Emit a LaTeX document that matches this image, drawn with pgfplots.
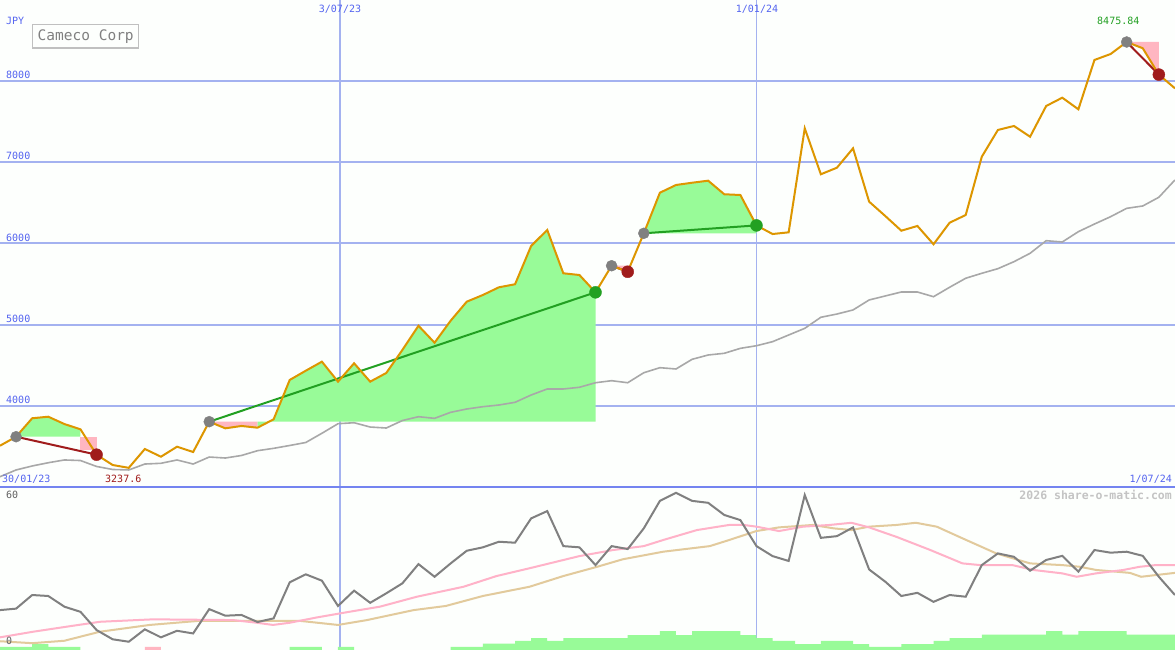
\documentclass[border=0pt]{standalone}
\usepackage{fontspec}
\setmainfont{DejaVu Sans Mono}
\usepackage{pgfplots}
\usepackage{pgfplotstable}
\pgfplotsset{compat=1.18}
\definecolor{bg}{RGB}{253,255,253}
\definecolor{gridblue}{RGB}{164,178,240}
\definecolor{divblue}{RGB}{116,132,240}
\definecolor{lblblue}{RGB}{84,100,240}
\definecolor{pricecol}{RGB}{221,150,0}
\definecolor{macol}{RGB}{168,168,168}
\definecolor{gainfill}{RGB}{152,251,152}
\definecolor{lossfill}{RGB}{255,182,193}
\definecolor{tradegreen}{RGB}{34,160,34}
\definecolor{tradered}{RGB}{160,28,28}
\definecolor{entrygray}{RGB}{128,128,128}
\definecolor{oscgray}{RGB}{128,128,128}
\definecolor{oscpink}{RGB}{255,178,200}
\definecolor{osctan}{RGB}{226,202,156}
\definecolor{boxgray}{RGB}{192,192,192}
\definecolor{wmgray}{RGB}{196,196,196}
\definecolor{lblgray}{RGB}{96,96,96}

\pgfplotstableread{
i v
0 3510
1 3621
2 3848
3 3867
4 3777
5 3712
6 3400
7 3273
8 3238
9 3470
10 3375
11 3498
12 3433
13 3806
14 3724
15 3753
16 3732
17 3835
18 4319
19 4433
20 4544
21 4298
22 4524
23 4298
24 4405
25 4688
26 4986
27 4777
28 5048
29 5282
30 5364
31 5459
32 5496
33 5967
34 6164
35 5631
36 5610
37 5397
38 5724
39 5650
40 6123
41 6622
42 6717
43 6745
44 6770
45 6603
46 6594
47 6220
48 6114
49 6135
50 7414
51 6849
52 6930
53 7168
54 6512
55 6336
56 6155
57 6213
58 5988
59 6253
60 6348
61 7065
62 7394
63 7443
64 7311
65 7689
66 7791
67 7648
68 8255
69 8328
70 8476
71 8399
72 8075
73 7906
}\price

\pgfplotstableread{
i v
0 3129
1 3212
2 3261
3 3301
4 3335
5 3328
6 3255
7 3218
8 3212
9 3285
10 3294
11 3335
12 3285
13 3371
14 3359
15 3390
16 3449
17 3478
18 3513
19 3550
20 3663
21 3781
22 3793
23 3740
24 3728
25 3820
26 3867
27 3847
28 3921
29 3962
30 3990
31 4011
32 4044
33 4134
34 4208
35 4208
36 4229
37 4285
38 4310
39 4285
40 4408
41 4470
42 4454
43 4573
44 4626
45 4647
46 4708
47 4740
48 4790
49 4872
50 4954
51 5090
52 5130
53 5180
54 5303
55 5352
56 5401
57 5401
58 5343
59 5459
60 5570
61 5631
62 5688
63 5774
64 5877
65 6032
66 6016
67 6143
68 6237
69 6327
70 6430
71 6459
72 6566
73 6779
}\mavg

\pgfplotstableread{
i u
0 15.6
1 16.2
2 21.8
3 21.4
4 17.0
5 14.9
6 7.4
7 3.6
8 2.6
9 7.7
10 4.4
11 7.1
12 6.0
13 16.0
14 13.3
15 13.6
16 10.7
17 12.2
18 27.0
19 30.3
20 27.7
21 17.3
22 23.6
23 18.6
24 22.5
25 26.6
26 34.5
27 29.3
28 34.8
29 40.0
30 41.4
31 43.7
32 43.3
33 53.3
34 56.3
35 41.9
36 41.4
37 34.1
38 41.9
39 40.7
40 49.2
41 60.5
42 63.8
43 60.5
44 59.7
45 54.7
46 52.6
47 41.9
48 37.8
49 35.8
50 62.9
51 45.3
52 46.0
53 49.6
54 32.3
55 27.3
56 21.4
57 22.7
58 19.0
59 21.8
60 21.1
61 34.1
62 38.9
63 37.5
64 31.8
65 36.2
66 37.9
67 31.4
68 40.3
69 39.2
70 39.6
71 37.9
72 29.3
73 21.8
}\oscg

\pgfplotstableread{
i u
0 4.4
2.05 6.7
4.16 8.8
6.21 10.8
9.5 11.8
14.47 11.5
15.96 10.4
16.96 9.5
18.0 10.4
19.7 12.6
21.7 14.9
23.6 17.0
25.9 21.1
28.8 25.2
30.85 29.6
32.9 32.8
36.0 37.8
38.1 40.3
40.0 41.9
41.2 44.4
43.3 48.5
45.3 50.6
46.2 50.6
47.0 49.9
48.4 48.1
49.9 49.9
51.55 50.6
52.9 51.5
54.0 49.6
55.7 45.7
57.8 40.3
59.8 34.8
60.9 34.1
62.9 34.1
64.2 32.1
66.0 30.7
66.9 29.3
68.1 30.7
69.8 32.1
70.8 33.4
71.8 34.1
73 34.1
}\oscp

\pgfplotstableread{
i u
0 2.8
2 2.0
4 3.0
6.2 6.7
9.3 9.5
12.4 11.2
16.0 11.2
18.6 11.2
21.0 9.5
22.8 11.5
25.7 15.6
27.7 17.3
30.0 21.4
32.9 25.2
35.0 29.6
37.1 33.4
38.7 36.5
41.2 39.6
44.1 41.9
45.3 44.4
47.0 48.1
48.4 49.6
50.5 50.6
51.8 49.2
52.9 48.5
54.0 49.9
55.7 50.6
56.9 51.5
58.2 49.9
59.8 45.1
61.9 38.9
64.0 34.8
66.0 34.1
67.1 33.4
68.1 32.1
70.2 30.9
70.9 29.3
71.8 30.0
73 30.9
}\osct

\begin{document}
\begin{tikzpicture}
\useasboundingbox (0pt,0pt) rectangle (1175pt,650pt);
\fill[bg] (0pt,0pt) rectangle (1175pt,650pt);

% ---------------- main price panel ----------------
\begin{axis}[at={(0pt,163pt)}, anchor=south west,
  width=1175pt, height=487pt, scale only axis,
  xmin=0, xmax=73, ymin=3002.5, ymax=8992.6,
  axis line style={draw=none}, ticks=none, clip mode=individual]
  \pgfplotsinvokeforeach{4000,5000,6000,7000,8000}{
    \draw[gridblue, line width=2pt] (axis cs:0,#1) -- (axis cs:73,#1);
  }
  \draw[gridblue, line width=2pt] (axis cs:21.12,3002.5) -- (axis cs:21.12,8992.6);
  \draw[gridblue, line width=1pt] (axis cs:47.02,3002.5) -- (axis cs:47.02,8992.6);

  % trade fills
  \addplot[fill=gainfill, draw=none] coordinates {(1,3621) (2,3848) (3,3867) (4,3777) (5,3712) (5,3621)} -- cycle;
  \addplot[fill=lossfill, draw=none] coordinates {(5,3621) (6,3621) (6,3458) (5,3458)} -- cycle;
  \addplot[fill=lossfill, draw=none] coordinates {(13,3806) (14,3724) (15,3753) (16,3732) (16,3806)} -- cycle;
  \addplot[fill=gainfill, draw=none] coordinates {(16,3806) (16,3732) (17,3835) (18,4319) (19,4433) (20,4544) (21,4298) (22,4524) (23,4298) (24,4405) (25,4688) (26,4986) (27,4777) (28,5048) (29,5282) (30,5364) (31,5459) (32,5496) (33,5967) (34,6164) (35,5631) (36,5610) (37,5397) (37,3806)} -- cycle;
  \addplot[fill=lossfill, draw=none] coordinates {(38,5724) (39,5650) (39,5724)} -- cycle;
  \addplot[fill=gainfill, draw=none] coordinates {(40,6123) (41,6622) (42,6717) (43,6745) (44,6770) (45,6603) (46,6594) (47,6220) (47,6123)} -- cycle;
  \addplot[fill=lossfill, draw=none] coordinates {(70,8476) (71,8399) (72,8075) (72,8476)} -- cycle;

  % moving average
  \addplot[macol, line width=1.6pt] table[x=i, y=v] {\mavg};

  % trade lines
  \addplot[tradered, line width=2pt] coordinates {(1,3621) (6,3400)};
  \addplot[tradegreen, line width=2pt] coordinates {(13,3806) (37,5397)};
  \addplot[tradered, line width=2pt] coordinates {(38,5724) (39,5650)};
  \addplot[tradegreen, line width=2pt] coordinates {(40,6123) (47,6220)};
  \addplot[tradered, line width=2pt] coordinates {(70,8476) (72,8075)};

  % price
  \addplot[pricecol, line width=2pt] table[x=i, y=v] {\price};

  % markers
  \addplot[only marks, mark=*, mark size=5.5pt, mark options={fill=entrygray, draw=entrygray}] coordinates {(1,3621) (13,3806) (38,5724) (40,6123) (70,8476)};
  \addplot[only marks, mark=*, mark size=6pt, mark options={fill=tradered, draw=tradered}] coordinates {(6,3400) (39,5650) (72,8075)};
  \addplot[only marks, mark=*, mark size=6pt, mark options={fill=tradegreen, draw=tradegreen}] coordinates {(37,5397) (47,6220)};
\end{axis}

% ---------------- lower oscillator panel ----------------
\begin{axis}[at={(0pt,0pt)}, anchor=south west,
  width=1175pt, height=163pt, scale only axis,
  xmin=0, xmax=73, ymin=-0.8, ymax=66.2,
  axis line style={draw=none}, ticks=none, clip mode=individual]
  \draw[gridblue, line width=1.3pt] (axis cs:21.12,-0.8) -- (axis cs:21.12,66.2);
  \draw[gridblue, line width=1pt] (axis cs:47.02,-0.8) -- (axis cs:47.02,66.2);

  \addplot[const plot, fill=gainfill, draw=none] coordinates {(0,-2) (0,0.5) (2,1.6) (3,0.5) (5,-2) (18,0.5) (20,-2) (21,0.5) (22,-2) (28,0.5) (30,1.8) (32,2.9) (33,4.1) (34,2.9) (35,4.1) (39,5.3) (41,7.0) (42,5.3) (43,7.0) (46,5.3) (47,4.1) (48,2.9) (49.4,1.6) (51,2.9) (53,1.6) (54,0.5) (56,1.6) (58,2.9) (59,4.1) (61,5.5) (65,7.0) (66,5.5) (67,7.0) (70,5.5) (73,5.5) (73,-2)} -- cycle;
  \addplot[const plot, fill=lossfill, draw=none] coordinates {(9,-2) (9,0.5) (10,-2)} -- cycle;

  \addplot[osctan, line width=2pt] table[x=i, y=u] {\osct};
  \addplot[oscpink, line width=2pt] table[x=i, y=u] {\oscp};
  \addplot[oscgray, line width=2pt] table[x=i, y=u] {\oscg};
\end{axis}

% divider
\draw[divblue, line width=2pt] (0pt,162.5pt) -- (1175pt,162.5pt);

% texts
\begin{scope}[every node/.style={inner sep=0pt, font=\fontsize{10}{12}\selectfont}]
  \node[anchor=base west, text=lblblue] at (6pt,625pt) {JPY};
  \node[anchor=base west, text=lblblue] at (6pt,571.5pt) {8000};
  \node[anchor=base west, text=lblblue] at (6pt,490.2pt) {7000};
  \node[anchor=base west, text=lblblue] at (6pt,408.9pt) {6000};
  \node[anchor=base west, text=lblblue] at (6pt,327.6pt) {5000};
  \node[anchor=base west, text=lblblue] at (6pt,246.3pt) {4000};
  \node[anchor=base, text=lblblue] at (340pt,637.3pt) {3/07/23};
  \node[anchor=base, text=lblblue] at (757pt,637.3pt) {1/01/24};
  \node[anchor=base west, text=lblblue] at (2pt,167pt) {30/01/23};
  \node[anchor=base east, text=lblblue] at (1172pt,167pt) {1/07/24};
  \node[anchor=base west, text=tradered] at (105pt,167pt) {3237.6};
  \node[anchor=base west, text=tradegreen] at (1097pt,625pt) {8475.84};
  \node[anchor=base west, text=lblgray] at (6pt,151pt) {60};
  \node[anchor=base west, text=lblgray] at (6pt,5pt) {0};
  \node[anchor=base east, text=wmgray, font=\fontsize{11.5}{13}\selectfont\bfseries] at (1172pt,150pt) {2026 share-o-matic.com};
\end{scope}
\draw[boxgray, line width=1.5pt, fill=bg] (32.5pt,602pt) rectangle (138.5pt,625.5pt);
\node[anchor=base west, inner sep=0pt, text=entrygray, font=\fontsize{14.5}{16}\selectfont] at (37.5pt,609.3pt) {Cameco Corp};
\end{tikzpicture}
\end{document}
